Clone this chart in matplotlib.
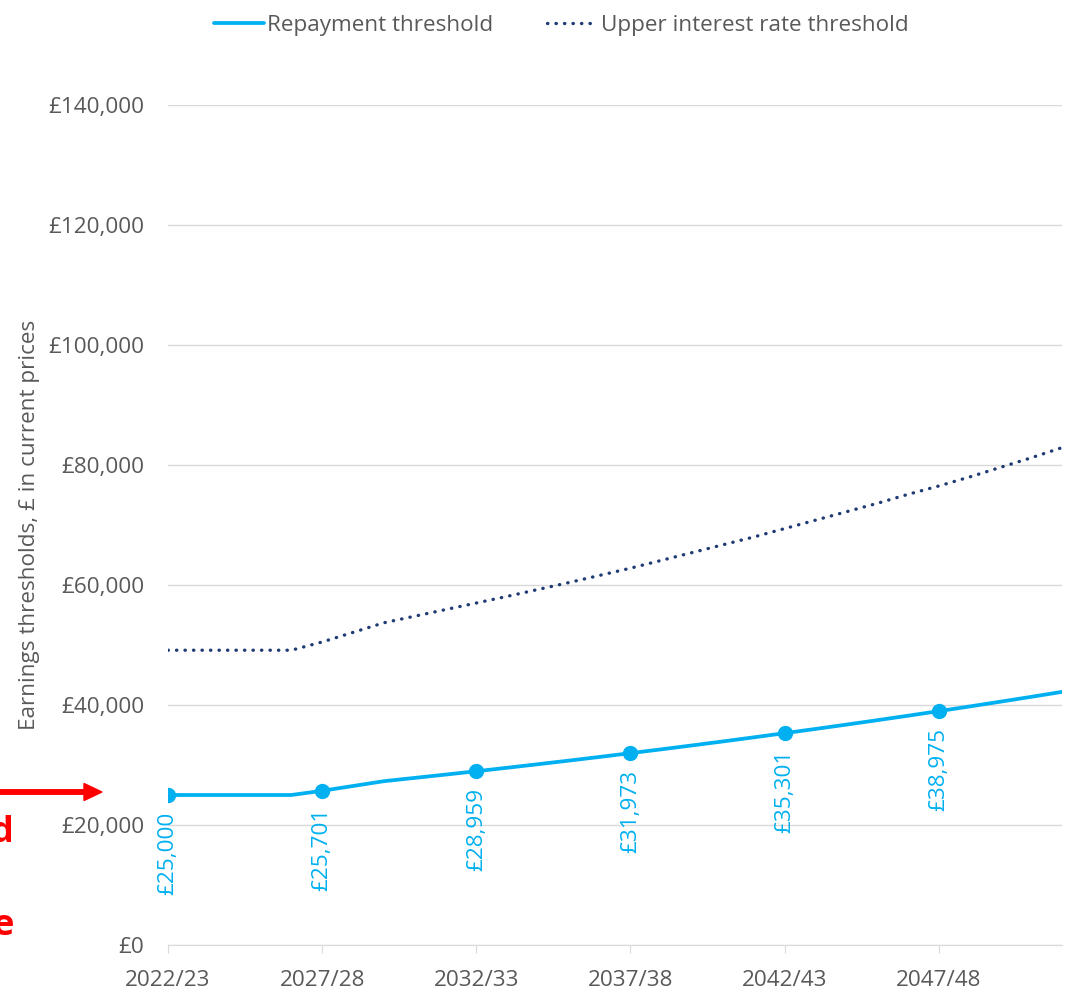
import matplotlib
matplotlib.use("Agg")
import matplotlib.pyplot as plt
from matplotlib.ticker import FuncFormatter

plt.rcParams['font.family'] = ['Open Sans', 'DejaVu Sans']

years = ["2022/23", "2023/24", "2024/25", "2025/26", "2026/27", "2027/28", "2028/29", "2029/30",
         "2030/31", "2031/32", "2032/33", "2033/34", "2034/35", "2035/36", "2036/37", "2037/38",
         "2038/39", "2039/40", "2040/41", "2041/42", "2042/43", "2043/44", "2044/45", "2045/46",
         "2046/47", "2047/48", "2048/49", "2049/50", "2050/51", "2051/52"]
repayment = [25000, 25000, 25000, 25000, 25000, 25701, 26500, 27300, 27850, 28400,
             28959, 29540, 30130, 30730, 31345, 31973, 32612, 33264, 33929, 34608,
             35301, 36007, 36727, 37462, 38211, 38975, 39754, 40549, 41360, 42187]
upper = [49130, 49130, 49130, 49130, 49130, 50500, 52100, 53700, 54800, 55900,
         57000, 58100, 59250, 60400, 61600, 62800, 64100, 65400, 66700, 68000,
         69400, 70800, 72200, 73600, 75100, 76500, 78000, 79600, 81200, 82900]
labelled_years = ["2022/23", "2027/28", "2032/33", "2037/38", "2042/43", "2047/48"]

W, H = 1076, 994
fig = plt.figure(figsize=(W / 100, H / 100), dpi=100)
ax = fig.add_axes([168 / W, 1 - 945 / H, (1062 - 168) / W, (945 - 105) / H])

x = list(range(len(years)))
grey = "#595959"
blue = "#00B0F0"
navy = "#1F3B73"
fs = 16.2

ax.plot(x, repayment, color=blue, lw=2.7, solid_capstyle='round', zorder=3,
        label="Repayment threshold")
ax.plot(x, upper, color=navy, lw=2.4, linestyle=(0, (0.1, 2.45)), dash_capstyle='round',
        zorder=3, label="Upper interest rate threshold")

lab_idx = [years.index(y) for y in labelled_years]
ax.plot(lab_idx, [repayment[i] for i in lab_idx], 'o', color=blue, ms=10, zorder=4)
for i in lab_idx:
    ax.annotate(f"£{repayment[i]:,}", (i, repayment[i]), xytext=(0, -12),
                textcoords='offset points', rotation=90, ha='center', va='top',
                color=blue, fontsize=fs)

ax.set_xlim(0, len(years) - 1)
ax.set_ylim(0, 140000)
ax.set_yticks(range(0, 140001, 20000))
ax.yaxis.set_major_formatter(FuncFormatter(lambda v, p: f"£{int(v):,}"))
ax.set_xticks(lab_idx)
ax.set_xticklabels(labelled_years)
ax.grid(axis='y', color="#d9d9d9", lw=1)
ax.set_axisbelow(True)
for s in ['top', 'right', 'left']:
    ax.spines[s].set_visible(False)
ax.spines['bottom'].set_color("#d9d9d9")
ax.tick_params(axis='y', length=0, pad=17, labelsize=fs, labelcolor=grey)
ax.tick_params(axis='x', length=6, color="#d9d9d9", pad=12, labelsize=fs, labelcolor=grey)
ax.set_ylabel("Earnings thresholds, £ in current prices", fontsize=fs, color=grey)
ax.yaxis.set_label_coords(-(168 - 40) / (1062 - 168), (945 - 525) / (945 - 105))

leg = fig.legend(loc='center', bbox_to_anchor=(561 / W, 1 - 25 / H), ncol=2, frameon=False,
                 fontsize=fs, handlelength=2.25, handletextpad=0.12, columnspacing=2.4)
for t in leg.get_texts():
    t.set_color(grey)

# partially visible annotation on the left edge
fig.patches.append(matplotlib.patches.FancyArrow(0, 1 - 792 / H, 102 / W, 0, width=4.5 / H,
                   head_width=17 / H, head_length=18 / W, length_includes_head=True,
                   color='red', transform=fig.transFigure))
fig.text(13 / W, 1 - 833 / H, "d", color='red', fontsize=26, fontweight='bold', ha='right', va='center')
fig.text(14 / W, 1 - 926 / H, "e", color='red', fontsize=26, fontweight='bold', ha='right', va='center')

fig.savefig("out.png", dpi=100)
